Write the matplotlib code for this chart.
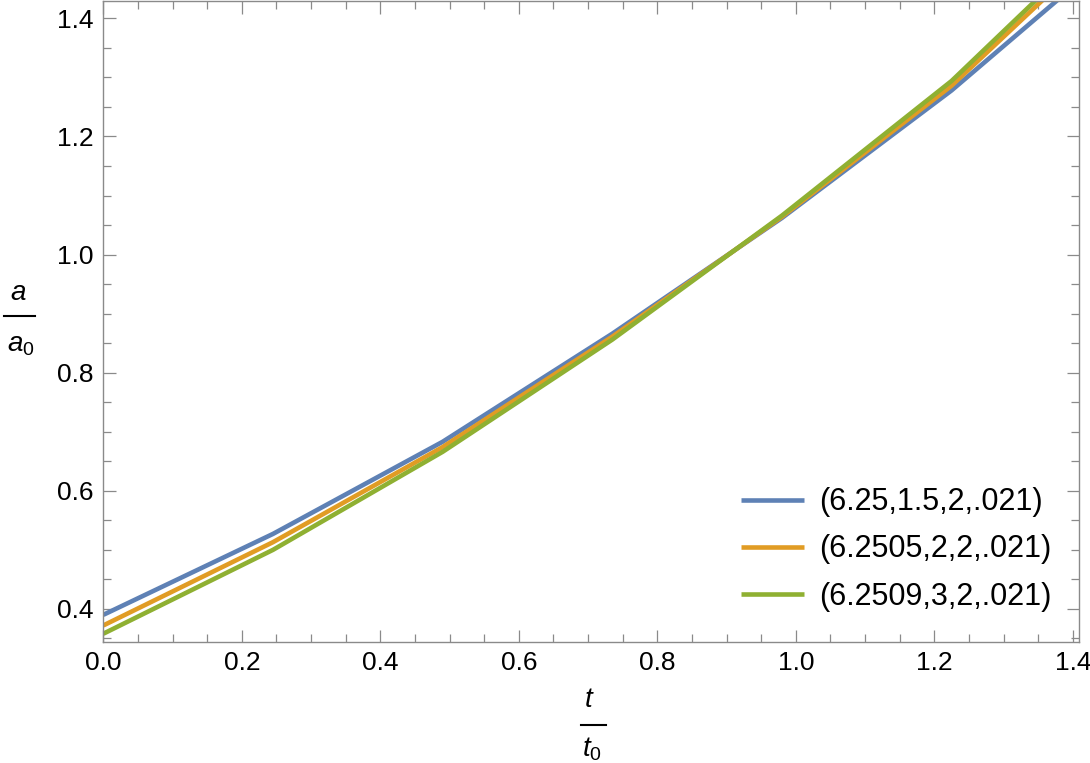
import matplotlib
matplotlib.use('Agg')
import matplotlib.pyplot as plt
from matplotlib.lines import Line2D
from matplotlib.ticker import MultipleLocator

plt.rcParams['font.family'] = ['Liberation Sans', 'DejaVu Sans']
plt.rcParams['mathtext.fontset'] = 'custom'
plt.rcParams['mathtext.rm'] = 'Liberation Sans'
plt.rcParams['mathtext.it'] = 'Liberation Sans:italic'

t = [0.0, 0.245, 0.49, 0.735, 0.98, 1.225, 1.47]
a_blue = [0.390, 0.527, 0.683, 0.866, 1.062, 1.278, 1.523]
a_orange = [0.372, 0.513, 0.674, 0.861, 1.064, 1.286, 1.556]
a_green = [0.358, 0.500, 0.666, 0.856, 1.066, 1.294, 1.569]
labels = ['(6.25,1.5,2,.021)', '(6.2505,2,2,.021)', '(6.2509,3,2,.021)']
colors = ['#5E81B5', '#E19C24', '#8FB032']

fig = plt.figure(figsize=(10.9, 7.63), dpi=100)
ax = fig.add_axes([0.0948, 0.159, 0.8951, 0.8397])

for y, lab, c in zip([a_blue, a_orange, a_green], labels, colors):
    ax.plot(t, y, color=c, lw=3.3, label=lab, solid_capstyle='butt')

ax.set_xlim(0, 1.409)
ax.set_ylim(0.3445, 1.4294)

ax.xaxis.set_major_locator(MultipleLocator(0.2))
ax.xaxis.set_minor_locator(MultipleLocator(0.05))
ax.yaxis.set_major_locator(MultipleLocator(0.2))
ax.yaxis.set_minor_locator(MultipleLocator(0.05))
ax.xaxis.set_major_formatter(plt.FormatStrFormatter('%.1f'))
ax.yaxis.set_major_formatter(plt.FormatStrFormatter('%.1f'))

gray = '#8a8a8a'
for s in ax.spines.values():
    s.set_color(gray)
    s.set_linewidth(1.0)
ax.tick_params(which='both', direction='in', top=True, right=True, color=gray, width=0.9)
ax.tick_params(which='major', length=9, labelsize=19, pad=7)
ax.tick_params(which='minor', length=5.5)

leg = ax.legend(loc='lower right', bbox_to_anchor=(0.972, 0.047), frameon=False,
                fontsize=22, handlelength=2.05, handletextpad=0.5, labelspacing=0.56,
                borderpad=0, borderaxespad=0)

# fraction-style axis labels
fig.text(0.0165, 0.616, '$a$', fontsize=20, ha='center', va='center')
fig.add_artist(Line2D([0.004, 0.032], [0.586, 0.586], color='black', lw=1.5))
fig.text(0.019, 0.548, '$a_0$', fontsize=20, ha='center', va='center')

fig.text(0.541, 0.082, '$t$', fontsize=20, ha='center', va='center')
fig.add_artist(Line2D([0.533, 0.556], [0.05, 0.05], color='black', lw=1.5))
fig.text(0.543, 0.018, '$t_0$', fontsize=20, ha='center', va='center')

fig.savefig('out.png', dpi=100)
